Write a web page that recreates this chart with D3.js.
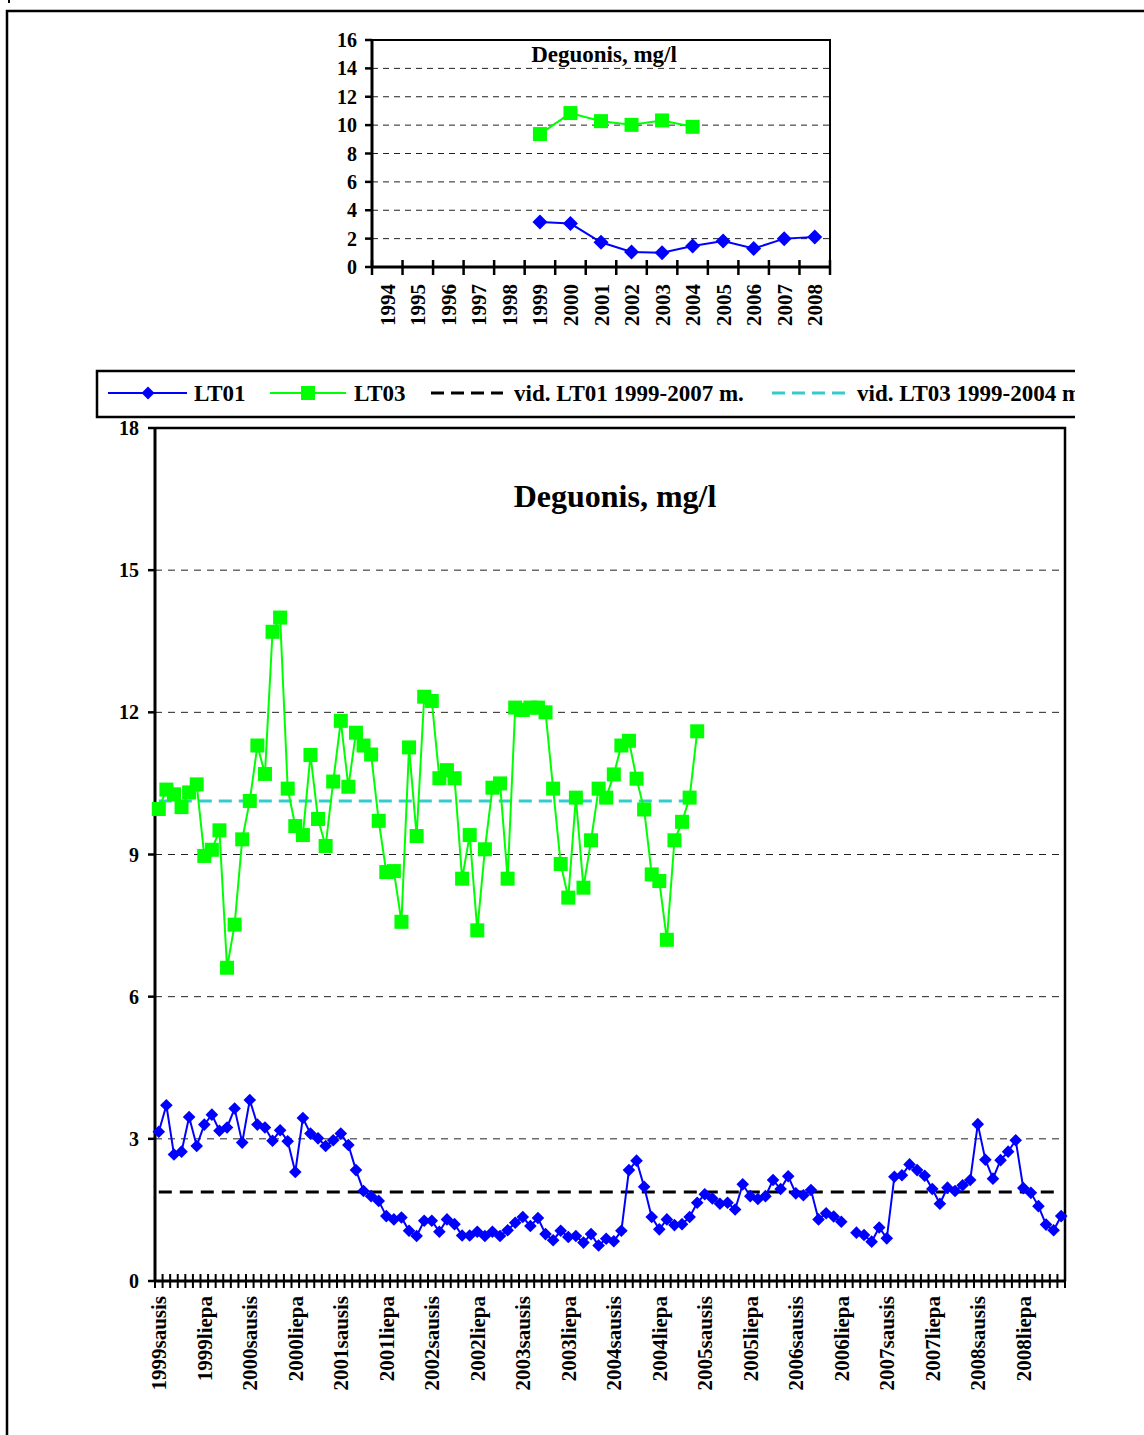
<!DOCTYPE html>
<html>
<head>
<meta charset="utf-8">
<script src="https://cdn.jsdelivr.net/npm/d3@7"></script>
<style>
  body { margin: 0; background: #fff; }
  svg { display: block; }
  text { font-family: "Liberation Serif", "Times New Roman", serif; font-weight: bold; fill: #000; }
</style>
</head>
<body>
<svg id="chart" width="1144" height="1435"></svg>
<script>
// ---- annual averages (small chart) ----
const years = [1994, 1995, 1996, 1997, 1998, 1999, 2000, 2001, 2002, 2003, 2004, 2005, 2006, 2007, 2008];
const lt01Annual = [null, null, null, null, null, 3.17, 3.06, 1.74, 1.06, 1.01, 1.48, 1.83, 1.30, 2.00, 2.11];
const lt03Annual = [null, null, null, null, null, 9.37, 10.85, 10.28, 10.02, 10.33, 9.88, null, null, null, null];
const annualTicks = [0, 2, 4, 6, 8, 10, 12, 14, 16];

// ---- monthly measurements (large chart) ----
const monthNames = ["sausis", "vasaris", "kovas", "balandis", "gegužė", "birželis",
                    "liepa", "rugpjūtis", "rugsėjis", "spalis", "lapkritis", "gruodis"];
const monthYears = [1999, 2000, 2001, 2002, 2003, 2004, 2005, 2006, 2007, 2008];
const lt01Monthly = [
  3.15, 3.71, 2.67, 2.73, 3.46, 2.85, 3.30, 3.51, 3.17, 3.24, 3.64, 2.92,
  3.82, 3.30, 3.24, 2.96, 3.18, 2.95, 2.30, 3.44, 3.11, 3.01, 2.85, 2.97,
  3.11, 2.87, 2.34, 1.90, 1.79, 1.69, 1.37, 1.30, 1.34, 1.06, 0.95, 1.27,
  1.27, 1.04, 1.30, 1.20, 0.96, 0.96, 1.04, 0.95, 1.04, 0.95, 1.07, 1.23,
  1.35, 1.16, 1.33, 0.99, 0.86, 1.06, 0.93, 0.95, 0.81, 0.99, 0.75, 0.89,
  0.84, 1.06, 2.34, 2.54, 1.99, 1.35, 1.09, 1.30, 1.18, 1.20, 1.35, 1.65,
  1.83, 1.74, 1.63, 1.65, 1.51, 2.04, 1.79, 1.73, 1.79, 2.13, 1.94, 2.21,
  1.85, 1.81, 1.92, 1.30, 1.43, 1.36, 1.25, null, 1.02, 0.97, 0.83, 1.13,
  0.90, 2.20, 2.23, 2.46, 2.34, 2.22, 1.94, 1.63, 1.97, 1.90, 2.02, 2.13,
  3.31, 2.56, 2.16, 2.55, 2.73, 2.97, 1.96, 1.86, 1.58, 1.19, 1.07, 1.37
];
const lt03Monthly = [
  9.96, 10.37, 10.27, 10.00, 10.31, 10.48, 8.97, 9.10, 9.51, 6.61, 7.52, 9.32,
  10.13, 11.30, 10.70, 13.70, 14.00, 10.39, 9.60, 9.41, 11.10, 9.75, 9.18, 10.54,
  11.82, 10.43, 11.57, 11.30, 11.11, 9.71, 8.63, 8.65, 7.58, 11.26, 9.39, 12.33,
  12.24, 10.61, 10.78, 10.61, 8.49, 9.41, 7.40, 9.11, 10.41, 10.50, 8.49, 12.10,
  12.05, 12.10, 12.10, 12.00, 10.39, 8.80, 8.09, 10.20, 8.30, 9.30, 10.39, 10.20,
  10.69, 11.30, 11.40, 10.60, 9.95, 8.58, 8.44, 7.20, 9.30, 9.69, 10.20, 11.60
];
const monthlyTicks = [0, 3, 6, 9, 12, 15, 18];
const lt01Mean = 1.88;   // vid. LT01 1999-2007 m.
const lt03Mean = 10.13;  // vid. LT03 1999-2004 m.
const legendItems = ["LT01", "LT03", "vid. LT01 1999-2007 m.", "vid. LT03 1999-2004 m."];

const BLUE = "#0000ff", GREEN = "#00ff00", CYAN = "#33cccc";
const svg = d3.select("#chart");

// outer frame
svg.append("path").attr("d", "M1144,11H7V1435").attr("fill", "none")
  .attr("stroke", "#000").attr("stroke-width", 2.5);
svg.append("rect").attr("x", 8).attr("y", 0).attr("width", 2).attr("height", 3).attr("fill", "#000");

const diamondPath = r => `M0,${-r}L${r},0L0,${r}L${-r},0Z`;

// ================= small annual chart =================
{
  const L = 372, R = 830, T = 40, B = 267;
  const x = d3.scaleBand().domain(years).range([L, R]);
  const y = d3.scaleLinear().domain([0, 16]).range([B, T]);
  const g = svg.append("g");

  g.selectAll("line.grid").data(annualTicks.filter(t => t > 0 && t < 16)).join("line")
    .attr("x1", L).attr("x2", R).attr("y1", d => y(d)).attr("y2", d => y(d))
    .attr("stroke", "#222").attr("stroke-width", 1).attr("stroke-dasharray", "6,5");

  // plot frame
  g.append("path").attr("d", `M${L},${T}H${R}V${B}`).attr("fill", "none")
    .attr("stroke", "#000").attr("stroke-width", 2);
  g.append("line").attr("x1", L).attr("x2", L).attr("y1", T - 1).attr("y2", B)
    .attr("stroke", "#000").attr("stroke-width", 3);
  g.append("line").attr("x1", L).attr("x2", R).attr("y1", B).attr("y2", B)
    .attr("stroke", "#000").attr("stroke-width", 3);

  // y ticks and labels
  g.selectAll("line.yt").data(annualTicks).join("line")
    .attr("x1", L - 7).attr("x2", L).attr("y1", d => y(d)).attr("y2", d => y(d))
    .attr("stroke", "#000").attr("stroke-width", 2.5);
  g.selectAll("text.yl").data(annualTicks).join("text")
    .attr("x", L - 15).attr("y", d => y(d)).attr("dy", "0.35em")
    .attr("text-anchor", "end").style("font-size", "20px").text(d => d);

  // x ticks at category boundaries
  const bounds = d3.range(years.length + 1).map(i => L + i * x.step());
  g.selectAll("line.xt").data(bounds).join("line")
    .attr("x1", d => d).attr("x2", d => d).attr("y1", B - 7).attr("y2", B + 8)
    .attr("stroke", "#000").attr("stroke-width", 2.5);
  g.selectAll("text.xl").data(years).join("text")
    .attr("transform", d => `translate(${x(d) + x.bandwidth() / 2},${B + 17}) rotate(-90)`)
    .attr("dy", "0.36em").attr("text-anchor", "end").style("font-size", "21px").text(d => d);

  g.append("text").attr("x", 604).attr("y", 62).attr("text-anchor", "middle")
    .style("font-size", "23px").text("Deguonis, mg/l");

  const cx = (d, i) => x(years[i]) + x.bandwidth() / 2;
  const line = d3.line().defined(d => d != null).x(cx).y(d => y(d));

  g.append("path").datum(lt01Annual).attr("d", line).attr("fill", "none")
    .attr("stroke", BLUE).attr("stroke-width", 2);
  g.append("path").datum(lt03Annual).attr("d", line).attr("fill", "none")
    .attr("stroke", GREEN).attr("stroke-width", 2);

  g.selectAll("path.d1").data(lt01Annual.map((v, i) => [v, i]).filter(d => d[0] != null)).join("path")
    .attr("transform", d => `translate(${cx(null, d[1])},${y(d[0])})`)
    .attr("d", diamondPath(7.5)).attr("fill", BLUE);
  g.selectAll("rect.s3").data(lt03Annual.map((v, i) => [v, i]).filter(d => d[0] != null)).join("rect")
    .attr("x", d => cx(null, d[1]) - 7).attr("y", d => y(d[0]) - 7)
    .attr("width", 14).attr("height", 14).attr("fill", GREEN);
}

// ================= legend =================
{
  svg.append("clipPath").attr("id", "legClip").append("rect")
    .attr("x", 0).attr("y", 360).attr("width", 1075).attr("height", 70);
  const g = svg.append("g").attr("clip-path", "url(#legClip)");
  g.append("rect").attr("x", 97).attr("y", 371).attr("width", 1100).attr("height", 46)
    .attr("fill", "#fff").attr("stroke", "#000").attr("stroke-width", 2.5);
  const ly = 393;
  // LT01
  g.append("line").attr("x1", 108).attr("x2", 187).attr("y1", ly).attr("y2", ly)
    .attr("stroke", BLUE).attr("stroke-width", 2);
  g.append("path").attr("transform", `translate(148,${ly})`).attr("d", diamondPath(6.5)).attr("fill", BLUE);
  // LT03
  g.append("line").attr("x1", 270).attr("x2", 346).attr("y1", ly).attr("y2", ly)
    .attr("stroke", GREEN).attr("stroke-width", 2);
  g.append("rect").attr("x", 301).attr("y", ly - 7).attr("width", 14).attr("height", 14).attr("fill", GREEN);
  // means
  g.append("line").attr("x1", 431).attr("x2", 503).attr("y1", ly).attr("y2", ly)
    .attr("stroke", "#000").attr("stroke-width", 3).attr("stroke-dasharray", "13,7");
  g.append("line").attr("x1", 772).attr("x2", 845).attr("y1", ly).attr("y2", ly)
    .attr("stroke", CYAN).attr("stroke-width", 3).attr("stroke-dasharray", "13,7");
  const tx = [194, 354, 514, 857];
  g.selectAll("text.lg").data(legendItems).join("text")
    .attr("x", (d, i) => tx[i]).attr("y", 401).style("font-size", "23px").text(d => d);
}

// ================= large monthly chart =================
{
  const L = 155, R = 1065, T = 428, B = 1281;
  const months = [];
  monthYears.forEach(yr => monthNames.forEach(m => months.push(yr + m)));
  const x = d3.scaleBand().domain(months).range([L, R]);
  const y = d3.scaleLinear().domain([0, 18]).range([B, T]);
  const g = svg.append("g");
  const cx = i => x(months[i]) + x.bandwidth() / 2;

  g.selectAll("line.grid").data(monthlyTicks.filter(t => t > 0 && t < 18)).join("line")
    .attr("x1", L).attr("x2", R).attr("y1", d => y(d)).attr("y2", d => y(d))
    .attr("stroke", "#222").attr("stroke-width", 1).attr("stroke-dasharray", "7,6");

  g.append("path").attr("d", `M${L},${T}H${R}V${B}`).attr("fill", "none")
    .attr("stroke", "#000").attr("stroke-width", 2.5);
  g.append("line").attr("x1", L).attr("x2", L).attr("y1", T - 1).attr("y2", B)
    .attr("stroke", "#000").attr("stroke-width", 3);
  g.append("line").attr("x1", L).attr("x2", R).attr("y1", B).attr("y2", B)
    .attr("stroke", "#000").attr("stroke-width", 3);

  g.selectAll("line.yt").data(monthlyTicks).join("line")
    .attr("x1", L - 7).attr("x2", L).attr("y1", d => y(d)).attr("y2", d => y(d))
    .attr("stroke", "#000").attr("stroke-width", 2.5);
  g.selectAll("text.yl").data(monthlyTicks).join("text")
    .attr("x", L - 16).attr("y", d => y(d)).attr("dy", "0.35em")
    .attr("text-anchor", "end").style("font-size", "20px").text(d => d);

  const bounds = d3.range(months.length + 1).map(i => L + i * x.step());
  g.selectAll("line.xt").data(bounds).join("line")
    .attr("x1", d => d).attr("x2", d => d).attr("y1", B - 7).attr("y2", B + 7)
    .attr("stroke", "#000").attr("stroke-width", 2);
  g.selectAll("text.xl").data(months.filter((m, i) => i % 6 === 0)).join("text")
    .attr("transform", d => `translate(${x(d) + x.bandwidth() / 2},${B + 15}) rotate(-90)`)
    .attr("dy", "0.36em").attr("text-anchor", "end").style("font-size", "21px").text(d => d);

  g.append("text").attr("x", 615).attr("y", 507).attr("text-anchor", "middle")
    .style("font-size", "32px").text("Deguonis, mg/l");

  // average lines
  g.append("line").attr("x1", cx(0)).attr("x2", cx(lt01Monthly.length - 1))
    .attr("y1", y(lt01Mean)).attr("y2", y(lt01Mean))
    .attr("stroke", "#000").attr("stroke-width", 3).attr("stroke-dasharray", "13,8");
  g.append("line").attr("x1", cx(0)).attr("x2", cx(lt03Monthly.length - 1))
    .attr("y1", y(lt03Mean)).attr("y2", y(lt03Mean))
    .attr("stroke", CYAN).attr("stroke-width", 3).attr("stroke-dasharray", "13,7");

  const line = d3.line().defined(d => d != null).x((d, i) => cx(i)).y(d => y(d));
  g.append("path").datum(lt01Monthly).attr("d", line).attr("fill", "none")
    .attr("stroke", BLUE).attr("stroke-width", 2);
  g.append("path").datum(lt03Monthly).attr("d", line).attr("fill", "none")
    .attr("stroke", GREEN).attr("stroke-width", 2);

  g.selectAll("path.d1").data(lt01Monthly.map((v, i) => [v, i]).filter(d => d[0] != null)).join("path")
    .attr("transform", d => `translate(${cx(d[1])},${y(d[0])})`)
    .attr("d", diamondPath(6.3)).attr("fill", BLUE);
  g.selectAll("rect.s3").data(lt03Monthly.map((v, i) => [v, i])).join("rect")
    .attr("x", d => cx(d[1]) - 7).attr("y", d => y(d[0]) - 7)
    .attr("width", 14).attr("height", 14).attr("fill", GREEN);
}
</script>
</body>
</html>
